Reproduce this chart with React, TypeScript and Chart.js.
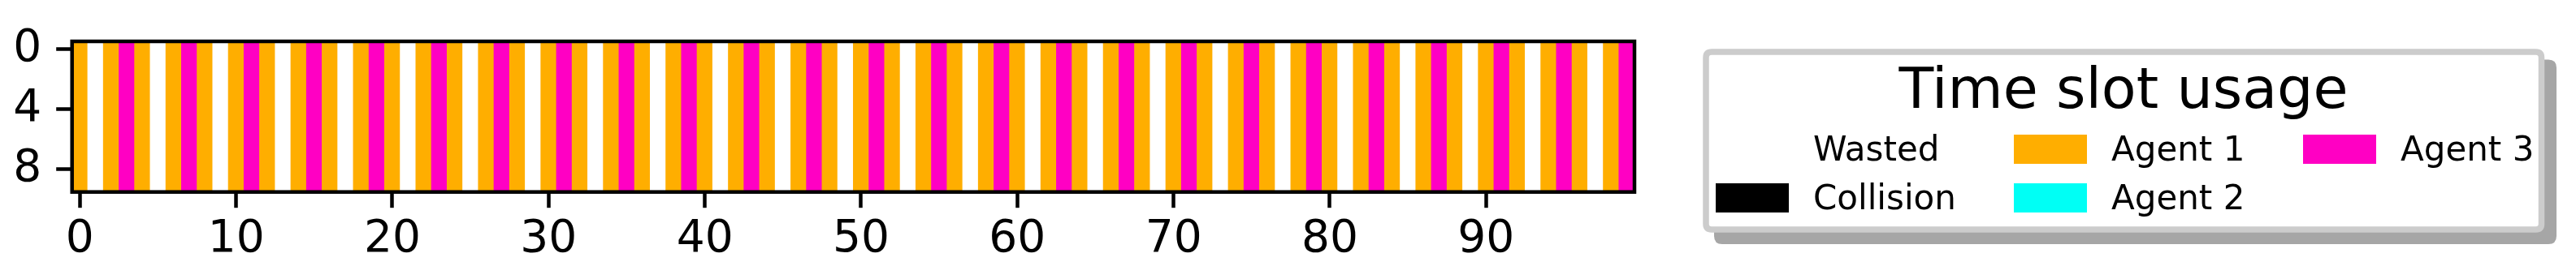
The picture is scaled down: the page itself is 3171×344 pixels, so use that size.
import React, { useEffect, useRef } from "react";
import { Chart, registerables } from "chart.js";

Chart.register(...registerables);

// ---- data ----
// slot code per time slot: 0 Wasted, 1 Collision, 2 Agent 1, 3 Agent 2, 4 Agent 3
const slotUsage = [
  2, 0, 2, 4, 2, 0, 2, 4, 2, 0, 2, 4, 2, 0, 2, 4, 2, 0, 2, 4,
  2, 0, 2, 4, 2, 0, 2, 4, 2, 0, 2, 4, 2, 0, 2, 4, 2, 0, 2, 4,
  2, 0, 2, 4, 2, 0, 2, 4, 2, 0, 2, 4, 2, 0, 2, 4, 2, 0, 2, 4,
  2, 0, 2, 4, 2, 0, 2, 4, 2, 0, 2, 4, 2, 0, 2, 4, 2, 0, 2, 4,
  2, 0, 2, 4, 2, 0, 2, 4, 2, 0, 2, 4, 2, 0, 2, 4, 2, 0, 2, 4,
];
const rowIndices = [0, 1, 2, 3, 4, 5, 6, 7, 8, 9];
const xTickValues = [0, 10, 20, 30, 40, 50, 60, 70, 80, 90];
const yTickValues = [0, 4, 8];
const legendTitle = "Time slot usage";
const legendLabels = ["Wasted", "Collision", "Agent 1", "Agent 2", "Agent 3"];
const legendColors = ["#ffffff", "#000000", "#ffae00", "#00fff5", "#ff00c3"];

const FONT = "'DejaVu Sans', 'Liberation Sans', sans-serif";

const framePlugin = {
  id: "frame",
  afterDraw(chart: any) {
    const { ctx, chartArea } = chart;
    ctx.save();
    ctx.strokeStyle = "#000000";
    ctx.lineWidth = 4.5;
    ctx.strokeRect(
      chartArea.left,
      chartArea.top,
      chartArea.right - chartArea.left,
      chartArea.bottom - chartArea.top
    );
    ctx.restore();
  },
};

function rrect(ctx: CanvasRenderingContext2D, x: number, y: number, w: number, h: number, r: number) {
  ctx.beginPath();
  ctx.moveTo(x + r, y);
  ctx.lineTo(x + w - r, y);
  ctx.quadraticCurveTo(x + w, y, x + w, y + r);
  ctx.lineTo(x + w, y + h - r);
  ctx.quadraticCurveTo(x + w, y + h, x + w - r, y + h);
  ctx.lineTo(x + r, y + h);
  ctx.quadraticCurveTo(x, y + h, x, y + h - r);
  ctx.lineTo(x, y + r);
  ctx.quadraticCurveTo(x, y, x + r, y);
  ctx.closePath();
}

const legendPlugin = {
  id: "slotLegend",
  afterDraw(chart: any) {
    const ctx: CanvasRenderingContext2D = chart.ctx;
    ctx.save();
    // shadow
    ctx.fillStyle = "#a6a6a6";
    rrect(ctx, 2110, 73.5, 1037, 227.5, 10);
    ctx.fill();
    // box
    ctx.fillStyle = "#ffffff";
    rrect(ctx, 2100, 64, 1028.5, 219, 7);
    ctx.fill();
    ctx.strokeStyle = "#cccccc";
    ctx.lineWidth = 7.5;
    ctx.stroke();
    // title
    ctx.fillStyle = "#000000";
    ctx.font = `70px ${FONT}`;
    ctx.textAlign = "center";
    ctx.textBaseline = "alphabetic";
    ctx.fillText(legendTitle, 2614, 133);
    // entries (column-major, 2 rows)
    const colX = [2112, 2479, 2835];
    const rowBase = [198, 258];
    ctx.font = `42px ${FONT}`;
    ctx.textAlign = "left";
    legendLabels.forEach((label, i) => {
      const c = Math.floor(i / 2);
      const r = i % 2;
      const px = colX[c];
      const base = rowBase[r];
      ctx.fillStyle = legendColors[i];
      ctx.fillRect(px, base - 32, 90, 36);
      ctx.fillStyle = "#000000";
      ctx.fillText(label, px + 120, base);
    });
    ctx.restore();
  },
};

export default function App() {
  const canvasRef = useRef<HTMLCanvasElement | null>(null);

  useEffect(() => {
    if (!canvasRef.current) return;
    const yLow = rowIndices[0] - 0.5;
    const yHigh = rowIndices[rowIndices.length - 1] + 0.5;
    const chart = new Chart(canvasRef.current, {
      type: "bar",
      data: {
        datasets: [
          {
            data: slotUsage.map((s, i) => ({ x: i, y: [yLow, yHigh] })) as any,
            backgroundColor: slotUsage.map((s) => legendColors[s]),
            borderWidth: 0,
            barPercentage: 1,
            categoryPercentage: 1,
          },
        ],
      },
      options: {
        animation: false,
        responsive: false,
        devicePixelRatio: 1,
        layout: { padding: { left: 0, top: 44.4, right: 1159, bottom: 0 } },
        plugins: { legend: { display: false }, tooltip: { enabled: false } },
        scales: {
          x: {
            type: "linear",
            min: -0.5,
            max: 99.5,
            offset: false,
            afterBuildTicks: (scale: any) => {
              scale.ticks = xTickValues.map((v) => ({ value: v }));
            },
            afterFit: (scale: any) => {
              scale.height = 344 - 236.7;
            },
            grid: {
              offset: false,
              drawOnChartArea: false,
              drawTicks: true,
              tickLength: 19.5,
              tickWidth: 4.5,
              tickColor: "#000000",
            },
            border: { display: false },
            ticks: {
              autoSkip: false,
              maxRotation: 0,
              padding: 7,
              color: "#000000",
              font: { family: FONT, size: 55, lineHeight: 1.2 },
              callback: (v: any) => String(v),
            },
          },
          y: {
            type: "linear",
            reverse: true,
            min: yLow,
            max: yHigh,
            afterBuildTicks: (scale: any) => {
              scale.ticks = yTickValues.map((v) => ({ value: v }));
            },
            afterFit: (scale: any) => {
              scale.width = 88.7;
            },
            grid: {
              drawOnChartArea: false,
              drawTicks: true,
              tickLength: 19.5,
              tickWidth: 4.5,
              tickColor: "#000000",
            },
            border: { display: false },
            ticks: {
              autoSkip: false,
              padding: 18,
              color: "#000000",
              font: { family: FONT, size: 55, lineHeight: 1.2 },
              callback: (v: any) => String(v),
            },
          },
        },
      },
      plugins: [framePlugin, legendPlugin],
    });
    return () => chart.destroy();
  }, []);

  return (
    <div style={{ position: "fixed", left: 0, top: 0, width: 3171, height: 344, background: "#ffffff" }}>
      <canvas ref={canvasRef} width={3171} height={344} style={{ display: "block" }} />
    </div>
  );
}
